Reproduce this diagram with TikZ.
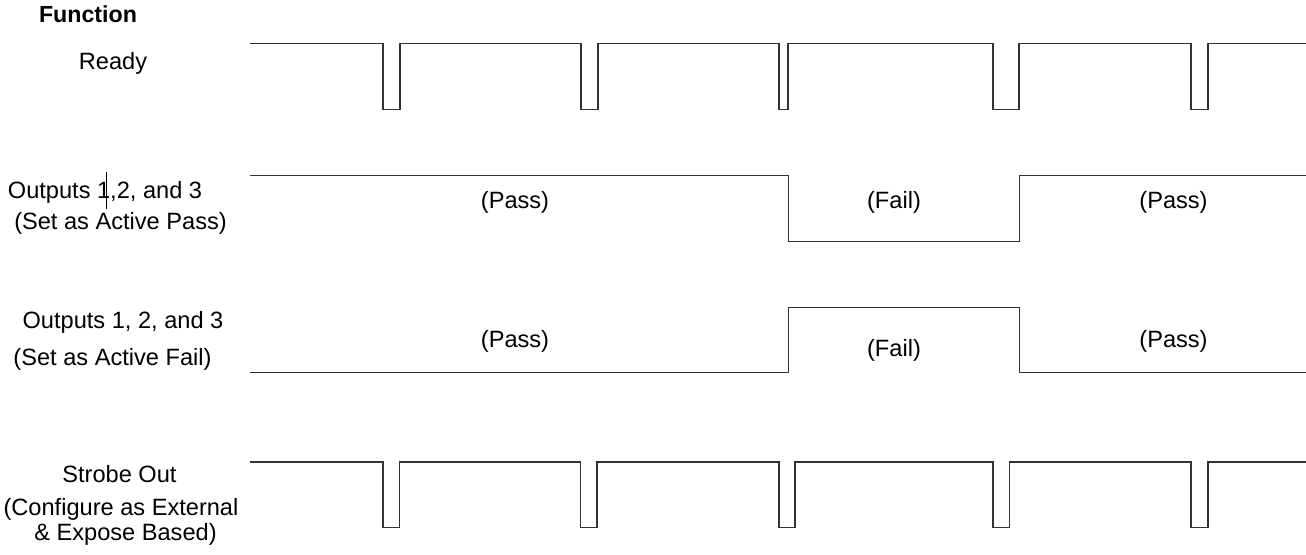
\documentclass[tikz,border=0pt]{standalone}
\usepackage{fontspec}
\setmainfont{Liberation Sans}
\begin{document}
\begin{tikzpicture}[x=1pt,y=-1pt,
  wave/.style={line width=1.2pt,draw=black!80,line join=miter},
  lbl/.style={anchor=base,inner sep=0pt,font=\fontsize{23.6}{28}\selectfont},
  cursor/.style={line width=0.8pt,draw=black}]
\useasboundingbox (0,0) rectangle (1306,554);
% labels
\node[lbl,font=\fontsize{23.2}{28}\selectfont\bfseries] (fn) at (88,22) {Function};
\node[lbl] (rdy) at (113,69.5) {Ready};
\node[lbl] (o1a) at (105,198.5) {Outputs 1,2, and 3};
\node[lbl] (o1b) at (120.5,229.5) {(Set as Active Pass)};
\node[lbl] (o2a) at (123,328.5) {Outputs 1, 2, and 3};
\node[lbl] (o2b) at (112.5,365) {(Set as Active Fail)};
\node[lbl] (s1) at (119.5,482) {Strobe Out};
\node[lbl] (s2) at (121,515.5) {(Configure as External};
\node[lbl] (s3) at (125.5,540.5) {\& Expose Based)};
% state labels
\node[lbl] (p1) at (515,208) {(Pass)};
\node[lbl] (f1) at (894,208) {(Fail)};
\node[lbl] (p2) at (1173.5,208) {(Pass)};
\node[lbl] (p3) at (515,347) {(Pass)};
\node[lbl] (f2) at (894,356) {(Fail)};
\node[lbl] (p4) at (1173.5,347) {(Pass)};
% cursor artifact
\draw[cursor] (106.7,172) -- (106.7,209);
% Ready
\draw[wave] (250,43.5) -- (383,43.5) -- (383,109.3) -- (400,109.3) -- (400,43.5)
  -- (581,43.5) -- (581,109.3) -- (598,109.3) -- (598,43.5)
  -- (779,43.5) -- (779,109.3) -- (788,109.3) -- (788,43.5)
  -- (993,43.5) -- (993,109.3) -- (1019,109.3) -- (1019,43.5)
  -- (1191,43.5) -- (1191,109.3) -- (1208,109.3) -- (1208,43.5)
  -- (1306,43.5);
% Outputs active pass
\draw[wave] (250,175.3) -- (788.3,175.3) -- (788.3,241.3) -- (1019.3,241.3)
  -- (1019.3,175.3) -- (1306,175.3);
% Outputs active fail
\draw[wave] (250,372.7) -- (788.3,372.7) -- (788.3,307.3) -- (1019.3,307.3)
  -- (1019.3,372.7) -- (1306,372.7);
% Strobe
\draw[wave] (250,462) -- (383,462) -- (383,527.5) -- (399.3,527.5) -- (399.3,462)
  -- (580.5,462) -- (580.5,527.5) -- (597,527.5) -- (597,462)
  -- (779,462) -- (779,527.5) -- (795,527.5) -- (795,462)
  -- (993,462) -- (993,527.5) -- (1009.5,527.5) -- (1009.5,462)
  -- (1191,462) -- (1191,527.5) -- (1208,527.5) -- (1208,462)
  -- (1306,462);
\end{tikzpicture}
\end{document}
